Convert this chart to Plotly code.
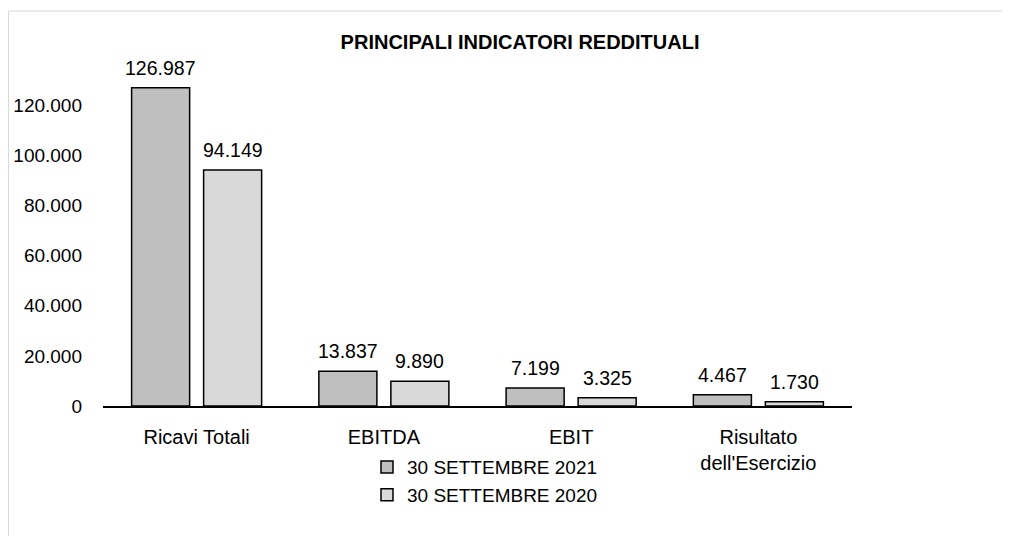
import plotly.graph_objects as go

categories = ["Ricavi Totali", "EBITDA", "EBIT", "Risultato<br>dell'Esercizio"]
series_2021 = [126987, 13837, 7199, 4467]
series_2020 = [94149, 9890, 3325, 1730]
name_2021 = "30 SETTEMBRE 2021"
name_2020 = "30 SETTEMBRE 2020"
title_text = "PRINCIPALI INDICATORI REDDITUALI"
y_ticks = [0, 20000, 40000, 60000, 80000, 100000, 120000]

FONT = "Liberation Sans, Arial, sans-serif"
FS = 19.5


def fmt(v):
    return f"{v:,}".replace(",", ".")


fig = go.Figure()
fig.add_trace(go.Bar(
    x=categories, y=series_2021, name=name_2021,
    marker=dict(color="#bfbfbf", line=dict(color="black", width=1.5)),
))
fig.add_trace(go.Bar(
    x=categories, y=series_2020, name=name_2020,
    marker=dict(color="#d9d9d9", line=dict(color="black", width=1.5)),
))

# value labels above the bars
for series, shift in ((series_2021, -36), (series_2020, 36)):
    for cat, val in zip(categories, series):
        fig.add_annotation(x=cat, y=val, text=fmt(val), showarrow=False,
                           xshift=shift, yshift=20, yanchor="middle",
                           font=dict(size=FS, family=FONT, color="black"))

fig.update_layout(
    width=1010, height=536,
    margin=dict(l=95, r=166, t=47, b=138, autoexpand=False),
    paper_bgcolor="white", plot_bgcolor="white",
    separators=",.",
    font=dict(family=FONT, size=FS, color="black"),
    title=dict(text="<b>" + title_text + "</b>", x=0.507, xanchor="center",
               y=1 - 34 / 536, yanchor="middle",
               font=dict(size=20, family=FONT, color="black")),
    barmode="group", bargap=0.231, bargroupgap=0.194,
    showlegend=True,
    legend=dict(orientation="v", x=0.51, xanchor="center", y=-0.12, yanchor="top",
                font=dict(size=19, family=FONT), tracegroupgap=0,
                traceorder="normal"),
    xaxis=dict(showline=True, linecolor="black", linewidth=1.5, ticks="",
               showgrid=False, tickfont=dict(size=20), ticklabelstandoff=12,
               automargin=False),
    yaxis=dict(range=[0, 140000], tickvals=y_ticks, tickformat=",d",
               showgrid=False, zeroline=False, showline=False, ticks="",
               ticklabelstandoff=20, tickfont=dict(size=19), automargin=False),
)

# light outer border of the chart area
fig.add_shape(type="rect", xref="paper", yref="paper",
              x0=(0.5 - 95) / 749, x1=(1012 - 95) / 749,
              y0=(398 - 560) / 351, y1=(398 - 3) / 351,
              line=dict(color="#d9d9d9", width=1), fillcolor="rgba(0,0,0,0)",
              layer="below")

fig.write_html("out.html")
